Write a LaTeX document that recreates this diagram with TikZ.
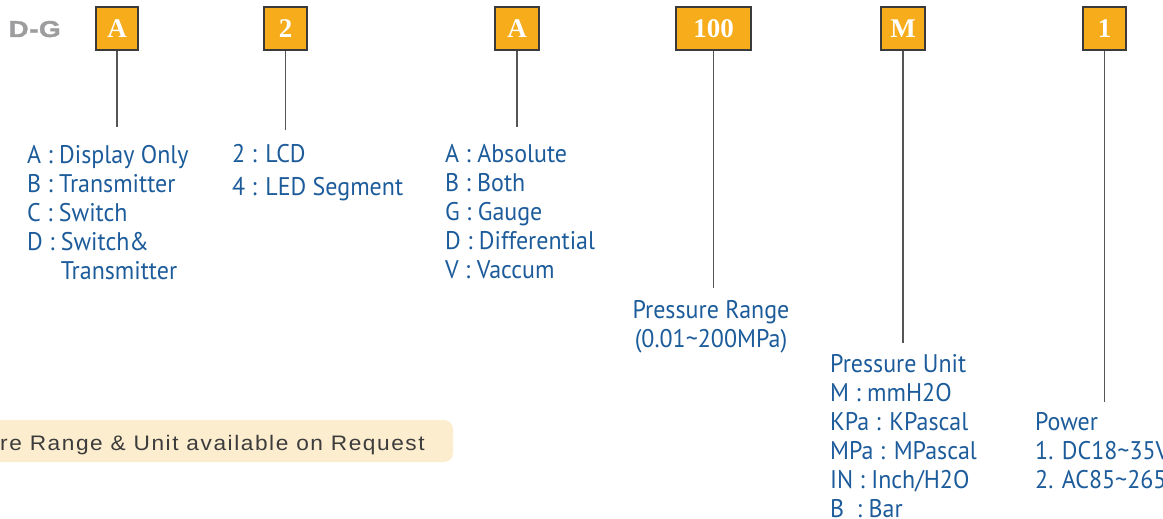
\documentclass[tikz,border=0pt]{standalone}
\usepackage{fontspec}
\setmainfont{Liberation Serif}
\newfontfamily\dinfont[FakeStretch=0.94]{PT Sans}
\newfontfamily\arialfont[FakeStretch=1.08,LetterSpace=7.4]{Liberation Sans}
\newfontfamily\hdrfont[FakeStretch=1.22,LetterSpace=2,FakeBold=1.5]{Liberation Sans Bold}
\definecolor{boxorange}{HTML}{F7AC1B}
\definecolor{boxedge}{HTML}{3A3A3A}
\definecolor{txtblue}{HTML}{1D5C9B}
\definecolor{linegray}{HTML}{555555}
\definecolor{peach}{HTML}{FDEDCF}
\definecolor{dgray}{HTML}{9D9D9F}
\definecolor{notegray}{HTML}{3C3C3C}
\tikzset{
  codebox/.style={draw=boxedge, line width=1.6pt, fill=boxorange, inner sep=0pt,
    minimum height=43pt, text=white, font=\fontsize{27}{27}\selectfont\bfseries, anchor=north},
  lead/.style={draw=linegray, line width=1.4pt},
  desc/.style={anchor=base west, inner sep=0pt, text=txtblue, align=left,
    font=\dinfont\fontsize{25.5}{29}\selectfont},
}
\begin{document}
\begin{tikzpicture}[x=1pt,y=-1pt]
\useasboundingbox (0,0) rectangle (1163,519);
\clip (0,0) rectangle (1163,519);
\fill[white] (0,0) rectangle (1163,519);
% header code
\node[anchor=base east, inner sep=0pt, text=dgray, font=\hdrfont\fontsize{23}{23}\selectfont] (hdr) at (61,37) {D-G};
% code boxes
\node[codebox, minimum width=42pt] (b1) at (117,6) {A};
\node[codebox, minimum width=43pt] (b2) at (285.5,6) {2};
\node[codebox, minimum width=44pt] (b3) at (517,6) {A};
\node[codebox, minimum width=75pt] (b4) at (713.5,6) {100};
\node[codebox, minimum width=44pt] (b5) at (903,6) {M};
\node[codebox, minimum width=43pt] (b6) at (1104.5,6) {1};
% lead ends
\coordinate (e1) at (117,127);
\coordinate (e2) at (285.5,130);
\coordinate (e3) at (517,127);
\coordinate (e4) at (713.5,288);
\coordinate (e5) at (903,343);
\coordinate (e6) at (1104.5,402);
\draw[lead] (b1.south) -- (e1);
\draw[lead] (b2.south) -- (e2);
\draw[lead] (b3.south) -- (e3);
\draw[lead] (b4.south) -- (e4);
\draw[lead] (b5.south) -- (e5);
\draw[lead] (b6.south) -- (e6);
% descriptions (anchor = baseline of last line)
\node[desc] (d1) at (27,279) {A : Display Only\\B : Transmitter\\C : Switch\\D : Switch\&\\\hphantom{D : }Transmitter};
\node[desc, font=\dinfont\fontsize{25.5}{33}\selectfont] (d2) at (232,195) {2 : LCD\\4 : LED Segment};
\node[desc] (d3) at (445,278) {A : Absolute\\B : Both\\G : Gauge\\D : Differential\\V : Vaccum};
\node[desc, align=center, anchor=base] (d4) at (711,347) {Pressure Range\\(0.01\textasciitilde200MPa)};
\node[desc] (d5) at (830,517) {Pressure Unit\\M : mmH2O\\KPa : KPascal\\MPa : MPascal\\IN : Inch/H2O\\B \ : Bar};
\node[desc] (d6) at (1035,488) {Power\\1. DC18\textasciitilde35V\\2. AC85\textasciitilde265V};
% note
\fill[peach, rounded corners=9pt] (-20,420) rectangle (453,462);
\node[anchor=base west, inner sep=0pt, text=notegray, font=\arialfont\fontsize{21}{21}\selectfont] (note) at (0,450) {re Range \& Unit available on Request};
\end{tikzpicture}
\end{document}
